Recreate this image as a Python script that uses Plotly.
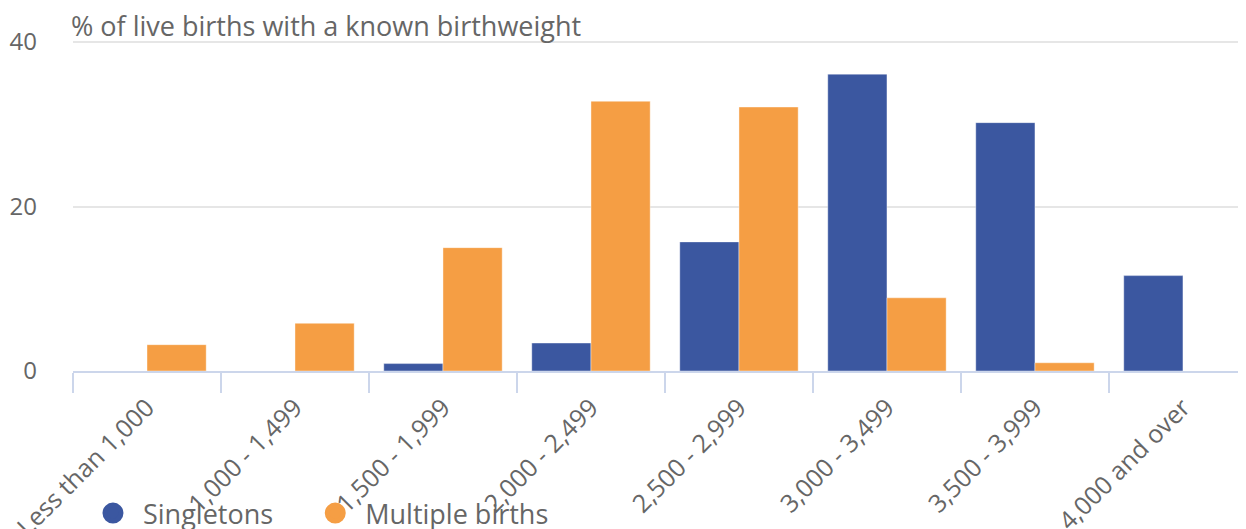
import plotly.graph_objects as go

categorias = ['Less than 1,000', '1,000 - 1,499', '1,500 - 1,999', '2,000 - 2,499',
              '2,500 - 2,999', '3,000 - 3,499', '3,500 - 3,999', '4,000 and over']
singletons = [0.0, 0.0, 0.9, 3.4, 15.7, 36.1, 30.2, 11.6]
multiplos = [3.2, 5.8, 15.0, 32.8, 32.1, 8.9, 1.0, 0.0]

AZUL = '#3b57a0'
LARANJA = '#f59e44'
CINZA = '#666666'

fig = go.Figure()
fig.add_trace(go.Bar(name='Singletons', x=categorias, y=singletons,
                     marker=dict(color=AZUL, line=dict(color='rgba(255,255,255,0.4)', width=1)),
                     showlegend=False))
fig.add_trace(go.Bar(name='Multiple births', x=categorias, y=multiplos,
                     marker=dict(color=LARANJA, line=dict(color='rgba(255,255,255,0.4)', width=1)),
                     showlegend=False))

# legenda com circulos, uma legenda para cada serie
for nome, cor, leg in [('Singletons', AZUL, 'legend'), ('Multiple births', LARANJA, 'legend2')]:
    fig.add_trace(go.Scatter(x=[None], y=[None], mode='markers', name=nome, legend=leg,
                             marker=dict(color=cor, size=22, symbol='circle',
                                         line=dict(color=cor, width=5))))

estilo_legenda = dict(orientation='h', y=-0.3565, xanchor='left', yanchor='top',
                      font=dict(size=27, color=CINZA), itemsizing='trace',
                      bgcolor='rgba(0,0,0,0)', itemwidth=50)

# a pagina tem margem de 8px no body, por isso l/t menores
fig.update_layout(
    width=1246, height=529,
    margin=dict(l=65, r=8, t=32, b=166, autoexpand=False),
    template='plotly_white',
    plot_bgcolor='white',
    font=dict(family='Open Sans', size=25, color=CINZA),
    barmode='group', bargap=0.2, bargroupgap=0,
    legend=dict(x=0.0085, **estilo_legenda),
    legend2=dict(x=0.198, **estilo_legenda),
    annotations=[dict(text='% of live births with a known birthweight', xref='paper', yref='paper',
                      x=0, y=1.0, xanchor='left', yanchor='bottom', yshift=-6, xshift=-4,
                      showarrow=False, font=dict(size=27, color=CINZA))],
)
fig.update_xaxes(range=[-0.5, 7.426], tickangle=-45, showgrid=False, automargin=False,
                 showline=True, linecolor='#ccd6eb', linewidth=2,
                 ticks='outside', ticklen=20, tickcolor='#ccd6eb', tickwidth=2,
                 tickson='boundaries', ticklabelstandoff=10, tickfont=dict(size=25, color=CINZA))
fig.update_yaxes(range=[0, 40.25], tickvals=[0, 20, 40], showgrid=True, gridcolor='#e6e6e6',
                 gridwidth=2, zeroline=False, ticks='', ticklabelstandoff=35, automargin=False,
                 tickfont=dict(size=24, color=CINZA))

fig.write_html("out.html")
